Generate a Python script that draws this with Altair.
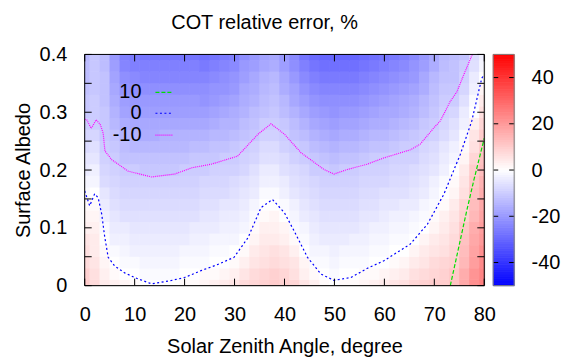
import altair as alt
import pandas as pd

# ---------------- data ----------------
sza_centers = [0, 2, 4, 6, 8, 10, 12, 14, 16, 18, 20, 22, 24, 26, 28, 30, 32, 34, 36, 38, 40,
               42, 44, 46, 48, 50, 52, 54, 56, 58, 60, 62, 64, 66, 68, 70, 72, 74, 76, 78, 80]
albedo_centers = [0.0, 0.02, 0.04, 0.06, 0.08, 0.10, 0.12, 0.14, 0.16, 0.18, 0.20,
                  0.22, 0.24, 0.26, 0.28, 0.30, 0.32, 0.34, 0.36, 0.38, 0.40]

# COT relative error (%) for each SZA column, listed from albedo 0 to 0.4
cot_error_by_sza = [
    [10, 9, 7, 6, 5, 3, 2, 1, -1, -2, -4, -5, -7, -8, -10, -11, -11, -12, -13, -13, -14],
    [7, 6, 5, 4, 4, 3, 2, 1, 0, -2, -3, -5, -6, -8, -10, -10, -10, -11, -11, -11, -11],
    [4, 3, 2, 1, 0, -1, -3, -4, -5, -7, -8, -9, -10, -11, -11, -11, -12, -12, -12, -13, -13],
    [3, 1, 0, -1, -3, -4, -5, -6, -7, -8, -9, -10, -11, -12, -14, -15, -16, -17, -18, -19, -20],
    [2, 0, -1, -2, -3, -4, -6, -7, -8, -9, -10, -12, -13, -15, -16, -18, -19, -21, -22, -24, -25],
    [1, 0, -1, -3, -4, -5, -6, -7, -8, -9, -10, -12, -14, -15, -17, -19, -20, -22, -23, -25, -26],
    [0, -1, -2, -3, -4, -5, -6, -7, -8, -9, -11, -12, -14, -16, -17, -19, -20, -22, -24, -25, -27],
    [0, -1, -2, -3, -4, -5, -6, -7, -8, -9, -11, -12, -14, -16, -17, -19, -20, -22, -24, -25, -27],
    [0, -1, -2, -3, -4, -5, -6, -7, -8, -9, -11, -12, -14, -15, -17, -19, -20, -22, -24, -25, -27],
    [0, -1, -2, -3, -4, -5, -6, -7, -8, -9, -11, -12, -14, -15, -17, -19, -20, -22, -24, -25, -27],
    [1, 0, -1, -2, -4, -5, -6, -7, -8, -9, -10, -12, -14, -15, -17, -19, -20, -22, -24, -25, -27],
    [1, 0, -1, -2, -3, -4, -6, -7, -8, -9, -10, -11, -13, -15, -17, -19, -20, -22, -24, -25, -27],
    [2, 1, -1, -2, -3, -4, -5, -6, -7, -8, -10, -11, -13, -15, -17, -19, -21, -22, -24, -26, -28],
    [3, 1, 0, -1, -2, -4, -5, -6, -7, -8, -9, -11, -12, -14, -16, -18, -20, -21, -23, -25, -27],
    [4, 2, 0, -1, -2, -3, -4, -5, -7, -8, -9, -10, -12, -14, -15, -17, -19, -21, -22, -24, -26],
    [5, 3, 1, 0, -2, -3, -4, -5, -6, -7, -9, -10, -11, -13, -15, -16, -18, -20, -21, -23, -25],
    [7, 5, 3, 1, 0, -2, -3, -4, -5, -6, -8, -9, -10, -12, -13, -15, -16, -17, -19, -20, -22],
    [8, 7, 5, 4, 2, 1, -1, -2, -4, -5, -6, -8, -9, -11, -12, -13, -15, -16, -17, -19, -20],
    [9, 8, 6, 5, 4, 3, 1, 0, -1, -3, -4, -6, -7, -9, -10, -12, -13, -14, -15, -17, -18],
    [10, 9, 7, 6, 4, 3, 2, 0, -1, -3, -4, -6, -7, -9, -10, -11, -12, -13, -14, -16, -17],
    [9, 8, 6, 5, 3, 2, 0, -1, -3, -4, -6, -7, -9, -10, -11, -13, -14, -16, -17, -19, -20],
    [8, 6, 5, 3, 1, -1, -2, -3, -5, -6, -7, -9, -10, -12, -13, -15, -17, -18, -20, -22, -23],
    [5, 3, 2, 0, -1, -2, -4, -5, -6, -7, -8, -10, -11, -13, -15, -17, -19, -21, -23, -25, -27],
    [3, 1, -1, -2, -3, -4, -5, -6, -7, -8, -10, -11, -13, -15, -17, -19, -21, -23, -25, -27, -29],
    [1, 0, -1, -2, -4, -5, -6, -7, -8, -9, -10, -12, -14, -16, -18, -20, -22, -24, -26, -28, -30],
    [0, -1, -2, -3, -4, -5, -6, -7, -8, -9, -11, -13, -15, -17, -19, -21, -22, -24, -26, -28, -30],
    [1, 0, -1, -2, -4, -5, -6, -7, -8, -9, -10, -12, -14, -16, -18, -20, -22, -24, -26, -28, -30],
    [1, 0, -1, -2, -3, -5, -6, -7, -8, -9, -10, -12, -14, -16, -18, -20, -22, -24, -26, -28, -30],
    [2, 1, -1, -2, -3, -4, -5, -6, -7, -8, -9, -11, -13, -15, -17, -19, -21, -23, -25, -27, -29],
    [3, 1, 0, -1, -2, -3, -5, -6, -7, -8, -9, -10, -12, -14, -16, -18, -20, -22, -24, -26, -28],
    [4, 2, 0, -1, -2, -3, -4, -5, -6, -8, -9, -10, -12, -14, -16, -17, -19, -21, -23, -25, -27],
    [5, 3, 1, 0, -1, -2, -3, -5, -6, -7, -8, -9, -11, -13, -15, -17, -18, -20, -22, -24, -26],
    [6, 4, 2, 0, -1, -2, -3, -4, -6, -7, -8, -9, -10, -12, -14, -16, -17, -19, -21, -23, -25],
    [8, 6, 4, 2, 0, -1, -2, -4, -5, -6, -7, -9, -10, -11, -13, -15, -16, -18, -20, -21, -23],
    [9, 7, 5, 4, 2, 0, -1, -2, -4, -5, -6, -7, -8, -10, -11, -13, -14, -16, -17, -19, -20],
    [10, 8, 7, 5, 4, 2, 1, -1, -2, -3, -5, -6, -7, -9, -10, -11, -12, -13, -14, -16, -17],
    [10, 9, 8, 6, 5, 4, 3, 1, 0, -1, -3, -4, -5, -7, -8, -9, -10, -11, -12, -13, -14],
    [12, 11, 9, 8, 7, 6, 5, 4, 2, 1, 0, -2, -3, -5, -6, -8, -10, -11, -12, -12, -13],
    [17, 16, 14, 13, 12, 11, 9, 8, 6, 5, 4, 2, 1, -1, -3, -4, -6, -8, -9, -10, -12],
    [22, 21, 19, 18, 17, 16, 14, 13, 12, 11, 10, 8, 6, 5, 3, 0, -1, -3, -4, -6, -7],
    [25, 24, 23, 22, 20, 19, 18, 17, 16, 15, 13, 12, 11, 10, 8, 6, 4, 2, 0, -2, -3],
]

# contour lines (SZA, albedo)
c_p10_sza = [73.2, 74.9, 76.5, 77.9, 80.0]
c_p10_alb = [0.0, 0.067, 0.13, 0.182, 0.255]

c_0_sza = [0, 1.0, 2.0, 2.7, 3.4, 4.0, 4.7, 6.0, 8.0, 10.0, 13.4, 17.4, 20.0, 23.3, 26.5,
           29.9, 32.7, 35.3, 37.6, 40.0, 41.9, 44.6, 47.3, 49.9, 53.3, 56.6, 59.9, 63.2,
           65.2, 68.6, 71.9, 75.2, 77.5, 79.5, 80.0]
c_0_alb = [0.164, 0.138, 0.159, 0.152, 0.124, 0.085, 0.049, 0.034, 0.022, 0.014, 0.003,
           0.009, 0.014, 0.026, 0.036, 0.049, 0.083, 0.135, 0.149, 0.126, 0.095, 0.049,
           0.020, 0.009, 0.014, 0.030, 0.043, 0.061, 0.072, 0.106, 0.158, 0.227, 0.285,
           0.359, 0.365]

c_m10_sza = [0, 0.4, 1.3, 2.3, 3.1, 3.7, 4.05, 5.4, 8.7, 13.4, 18.0, 21.5, 25.3, 30.6,
             34.7, 37.3, 40.0, 43.3, 47.9, 49.9, 52.6, 56.5, 59.9, 65.2, 67.2, 69.9, 71.2,
             73.2, 74.5, 75.9, 77.6]
c_m10_alb = [0.288, 0.287, 0.272, 0.287, 0.279, 0.264, 0.233, 0.218, 0.198, 0.188, 0.193,
             0.204, 0.210, 0.224, 0.262, 0.280, 0.262, 0.230, 0.201, 0.193, 0.201, 0.210,
             0.221, 0.235, 0.245, 0.273, 0.285, 0.319, 0.335, 0.365, 0.400]

contour_levels = ["10", "0", "-10"]
contour_colors = ["#00e000", "#0000ff", "#ff00ff"]
contour_dashes = [[4, 2], [2, 2.5], [1, 1]]

x_ticks = [0, 10, 20, 30, 40, 50, 60, 70, 80]
y_ticks = [0, 0.05, 0.1, 0.15, 0.2, 0.25, 0.3, 0.35, 0.4]
y_labels = [0, 0.1, 0.2, 0.3, 0.4]
cb_labels = [-40, -20, 0, 20, 40]
cb_range = [-50, 50]
title_text = "COT relative error, %"

# ---------------- build tables ----------------
rows = []
for i, xc in enumerate(sza_centers):
    for j, yc in enumerate(albedo_centers):
        rows.append(dict(
            x0=max(0, xc - 1), x1=min(80, xc + 1),
            y0=max(0.0, yc - 0.01), y1=min(0.4, yc + 0.01),
            v=cot_error_by_sza[i][j],
        ))
heat_df = pd.DataFrame(rows)

# colour-bar strips: one per unit of the colour scale
cb_df = pd.DataFrame({"c0": list(range(cb_range[0], cb_range[1]))})
cb_df["c1"] = cb_df["c0"] + 1
cb_df["cm"] = cb_df["c0"] + 0.5

W, H = 401, 232
CBW = 21
FONT = "Liberation Sans"

xscale = alt.Scale(domain=[0, 80], nice=False, zero=False)
yscale = alt.Scale(domain=[0, 0.4], nice=False, zero=False)
cscale = alt.Scale(domain=[-50, 0, 50], range=["#0000ff", "#ffffff", "#ff0000"], interpolate="rgb")

xaxis = alt.Axis(values=x_ticks, ticks=False, domain=False, grid=False, labelFontSize=20,
                 labelFont=FONT, labelPadding=19, labelColor="black", labelFlush=False,
                 title="Solar Zenith Angle, degree", titleFontSize=20, titleFont=FONT,
                 titleFontWeight="normal", titlePadding=12, titleColor="black")
yaxis = alt.Axis(values=y_labels, format=".1~f", ticks=False, domain=False, grid=False,
                 labelFontSize=20, labelFont=FONT, labelPadding=18, labelColor="black",
                 labelFlush=False,
                 title="Surface Albedo", titleFontSize=20, titleFont=FONT,
                 titleFontWeight="normal", titlePadding=6, titleColor="black")


def X(field):
    return alt.X(field, type="quantitative", scale=xscale, axis=xaxis)


def Y(field):
    return alt.Y(field, type="quantitative", scale=yscale, axis=yaxis)


# outline layer (same colours) hides anti-aliasing seams between cells
heat_edges = alt.Chart(heat_df).mark_rect(filled=False, strokeWidth=0.8).encode(
    x=X("x0"), x2="x1", y=Y("y0"), y2="y1",
    stroke=alt.Stroke("v:Q", scale=cscale, legend=None),
)
heat = alt.Chart(heat_df).mark_rect().encode(
    x=X("x0"), x2="x1", y=Y("y0"), y2="y1",
    color=alt.Color("v:Q", scale=cscale, legend=None),
)

layers = [heat_edges, heat]

contours = [(c_p10_sza, c_p10_alb), (c_0_sza, c_0_alb), (c_m10_sza, c_m10_alb)]
key_y = [38, 59, 81]
for k, (sz, al) in enumerate(contours):
    df = pd.DataFrame({"sza": sz, "alb": al, "i": list(range(len(sz)))})
    layers.append(
        alt.Chart(df).mark_line(color=contour_colors[k], strokeDash=contour_dashes[k],
                                strokeWidth=1.2, clip=True).encode(
            x=X("sza"), y=Y("alb"), order="i:Q")
    )
    kdf = pd.DataFrame({"lab": [contour_levels[k]]})
    layers.append(
        alt.Chart(kdf).mark_text(align="right", baseline="middle", fontSize=20, font=FONT,
                                 color="black").encode(
            text="lab:N", x=alt.value(57), y=alt.value(key_y[k]))
    )
    layers.append(
        alt.Chart(kdf).mark_rule(color=contour_colors[k], strokeDash=contour_dashes[k],
                                 strokeWidth=1.2).encode(
            x=alt.value(71), x2=alt.value(89), y=alt.value(key_y[k]))
    )

xt = pd.DataFrame({"t": x_ticks})
yt = pd.DataFrame({"t": y_ticks})
layers.append(alt.Chart(xt).mark_rule(color="black").encode(x=X("t"), y=alt.value(0), y2=alt.value(7)))
layers.append(alt.Chart(xt).mark_rule(color="black").encode(x=X("t"), y=alt.value(H - 7), y2=alt.value(H)))
layers.append(alt.Chart(yt).mark_rule(color="black").encode(y=Y("t"), x=alt.value(0), x2=alt.value(7)))
layers.append(alt.Chart(yt).mark_rule(color="black").encode(y=Y("t"), x=alt.value(W - 7), x2=alt.value(W)))

frame = alt.Chart(pd.DataFrame({"f": [0]})).mark_rect(fill=None, stroke="black", strokeWidth=1).encode(
    x=alt.value(0), x2=alt.value(W), y=alt.value(0), y2=alt.value(H))
layers.append(frame)

title = alt.Chart(pd.DataFrame({"t": [title_text]})).mark_text(
    align="center", baseline="alphabetic", fontSize=20, font=FONT, color="black").encode(
    text="t:N", x=alt.value(W / 2 - 20), y=alt.value(-26))
layers.append(title)

main = alt.layer(*layers).properties(width=W, height=H)

# ---------------- colour bar ----------------
cbscale = alt.Scale(domain=cb_range, nice=False, zero=False)
cbaxis = alt.Axis(orient="right", values=cb_labels, ticks=False, domain=False, grid=False,
                  labelFontSize=20, labelFont=FONT, labelPadding=17, labelColor="black",
                  labelFlush=False, labelExpr="'' + datum.value", title=None)


def CY(field):
    return alt.Y(field, type="quantitative", scale=cbscale, axis=cbaxis)


cb_edges = alt.Chart(cb_df).mark_rect(filled=False, strokeWidth=0.8).encode(
    y=CY("c0"), y2="c1", x=alt.value(0), x2=alt.value(CBW),
    stroke=alt.Stroke("cm:Q", scale=cscale, legend=None))
cb_rects = alt.Chart(cb_df).mark_rect().encode(
    y=CY("c0"), y2="c1", x=alt.value(0), x2=alt.value(CBW),
    color=alt.Color("cm:Q", scale=cscale, legend=None))
cbt = pd.DataFrame({"t": cb_labels})
cb_tl = alt.Chart(cbt).mark_rule(color="black").encode(y=CY("t"), x=alt.value(0), x2=alt.value(5))
cb_tr = alt.Chart(cbt).mark_rule(color="black").encode(y=CY("t"), x=alt.value(CBW - 5), x2=alt.value(CBW))
cb_frame = alt.Chart(pd.DataFrame({"f": [0]})).mark_rect(fill=None, stroke="#808080", strokeWidth=1).encode(
    x=alt.value(0), x2=alt.value(CBW), y=alt.value(0), y2=alt.value(H))

cbar = alt.layer(cb_edges, cb_rects, cb_tl, cb_tr, cb_frame).properties(width=CBW, height=H)

chart = alt.hconcat(main, cbar, spacing=9, bounds="flush").properties(
    padding={"left": 12, "top": 11, "right": 0, "bottom": 0},
).configure_view(stroke=None).configure(font=FONT)

chart.save("out.html", embed_options={"renderer": "svg", "actions": False})
